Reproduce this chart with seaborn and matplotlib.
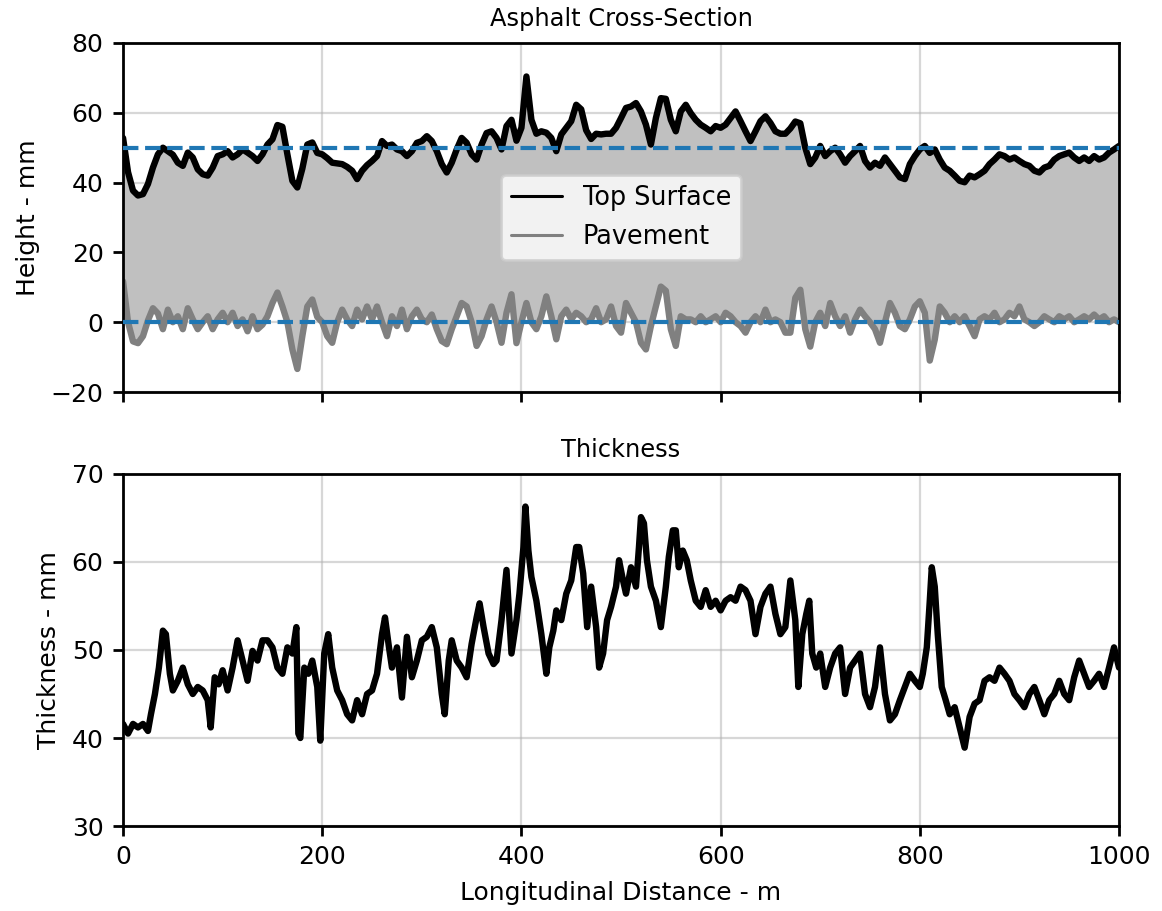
import numpy as np
import pandas as pd
import matplotlib
matplotlib.use("Agg")
import matplotlib.pyplot as plt
from matplotlib.lines import Line2D
import seaborn as sns

# ---------------- data ----------------
distance = list(range(0, 1001, 5))  # m

top_surface = [
    52.8, 43.0, 37.7, 36.3, 36.7, 39.6, 44.3, 48.1, 50.0, 49.0,   # 0-45
    48.0, 45.7, 44.8, 48.6, 47.2, 43.8, 42.4, 42.0, 44.3, 47.6,   # 50-95
    48.1, 49.0, 47.2, 48.1, 49.5, 48.6, 47.6, 46.2, 48.1, 50.9,   # 100-145
    52.4, 56.5, 56.0, 48.1, 40.5, 38.6, 44.0, 50.9, 51.5, 48.5,   # 150-195
    48.1, 47.0, 45.7, 45.5, 45.3, 44.5, 43.4, 41.0, 43.4, 45.0,   # 200-245
    46.2, 47.6, 51.9, 50.5, 50.9, 49.5, 49.0, 47.6, 49.0, 51.4,   # 250-295
    51.9, 53.3, 51.9, 49.0, 45.3, 42.9, 45.7, 49.5, 52.8, 51.4,   # 300-345
    48.1, 46.6, 50.9, 54.2, 54.7, 52.8, 49.5, 56.2, 58.0, 52.0,   # 350-395
    55.7, 70.4, 58.0, 54.0, 54.7, 54.3, 52.8, 49.0, 53.8, 55.7,   # 400-445
    57.6, 62.3, 61.0, 55.0, 52.5, 54.0, 53.8, 54.0, 54.0, 55.7,   # 450-495
    58.5, 61.4, 61.8, 62.8, 60.4, 56.6, 50.9, 58.5, 64.2, 64.0,   # 500-545
    58.0, 54.7, 60.4, 62.3, 59.9, 58.0, 56.6, 55.7, 54.7, 56.2,   # 550-595
    55.7, 56.6, 58.5, 60.4, 57.6, 54.7, 51.9, 54.7, 57.6, 59.0,   # 600-645
    57.1, 54.7, 54.0, 54.0, 55.5, 57.5, 57.0, 50.0, 45.3, 47.2,   # 650-695
    50.5, 47.6, 49.0, 50.0, 48.1, 45.7, 47.6, 49.0, 50.5, 46.2,   # 700-745
    44.3, 45.7, 44.8, 47.2, 45.3, 43.4, 41.5, 41.0, 45.3, 47.6,   # 750-795
    49.5, 50.5, 48.5, 49.5, 46.6, 44.3, 43.4, 42.0, 40.5, 40.1,   # 800-845
    42.0, 41.5, 42.4, 43.4, 45.3, 46.6, 48.1, 47.6, 46.6, 47.2,   # 850-895
    46.2, 45.3, 44.8, 43.4, 42.9, 44.3, 44.8, 46.6, 47.6, 48.1,   # 900-945
    48.6, 47.2, 46.2, 47.2, 46.2, 47.6, 46.6, 47.2, 48.6, 49.5,   # 950-995
    50.5,                                                          # 1000
]

pavement = [
    11.7, 0.0, -5.5, -6.0, -4.0, 0.5, 4.0, 2.5, -2.0, 3.6,        # 0-45
    0.0, 1.7, -2.0, 4.0, 0.8, -2.0, 0.0, 1.7, -2.0, 0.8,          # 50-95
    2.7, 0.0, 2.7, -1.1, 0.8, -2.6, 1.7, -2.0, -0.7, 1.7,         # 100-145
    5.5, 8.5, 4.5, 0.0, -7.8, -13.4, -4.0, 4.5, 6.5, 1.5,         # 150-195
    0.0, -4.0, -5.9, 0.0, 3.6, 0.8, -1.1, 3.6, 0.8, 4.5,          # 200-245
    0.8, 4.5, 0.0, -4.0, 1.7, -1.1, 3.6, -2.0, 1.7, 3.6,          # 250-295
    0.8, 0.0, 2.2, -2.0, -5.4, -6.3, -2.0, 1.7, 5.5, 4.5,         # 300-345
    0.0, -6.8, -4.0, 0.8, 4.5, 0.0, -5.9, 2.7, 8.0, -6.0,         # 350-395
    0.0, 5.5, 0.0, -2.0, 1.7, 7.4, 1.7, -4.9, 1.7, 3.6,           # 400-445
    0.8, 2.7, 1.7, 0.0, 0.8, 4.0, 0.0, 0.8, 4.5, -1.1,            # 450-495
    -3.0, 5.5, 2.7, 0.0, -5.9, -7.8, -1.1, 4.5, 10.2, 9.0,        # 500-545
    -2.0, -6.8, 1.7, 0.8, 0.8, 0.0, 1.7, 0.0, 0.8, 1.7,           # 550-595
    0.0, 2.7, 1.7, 0.0, -1.1, -3.0, 0.0, 1.7, 0.0, 3.6,           # 600-645
    0.0, 0.8, 0.0, -3.0, -3.0, 7.0, 9.3, -2.0, -7.0, 0.0,         # 650-695
    2.7, -1.1, 5.5, 1.7, -1.1, 1.7, -3.0, 0.8, 3.6, 1.7,          # 700-745
    0.0, -2.0, -5.9, 0.0, 5.5, 2.7, -1.1, -2.0, 0.8, 4.5,         # 750-795
    6.0, 2.7, -11.0, -5.0, 4.5, 2.7, 0.0, 1.7, 0.0, 1.7,          # 800-845
    -1.1, -4.0, 0.8, 1.7, 0.8, 2.7, 0.0, 0.8, 2.7, 1.7,           # 850-895
    4.5, 0.8, 0.0, -1.1, 0.0, 1.7, 0.8, 0.0, 1.7, 0.8,            # 900-945
    1.7, 0.0, 0.8, 1.7, 0.8, 2.2, 0.8, 1.7, 0.0, 0.8,             # 950-995
    0.0,                                                           # 1000
]

thickness_distance = [
    0, 5, 10, 15, 20, 25, 28, 32, 36, 40, 43, 47, 50, 55, 60, 65, 70, 75, 80, 85,
    88, 92, 96, 100, 105, 110, 115, 120, 125, 130, 135, 140, 145, 150, 155, 160,
    165, 170, 174, 176, 178, 182, 186, 190, 195, 198, 202, 206, 210, 215, 220,
    225, 230, 235, 240, 245, 250, 255, 260, 263, 267, 270, 275, 280, 285, 290,
    295, 300, 305, 310, 315, 320, 323, 327, 330, 335, 340, 345, 350, 355, 358,
    362, 367, 372, 375, 380, 385, 390, 395, 398, 402, 404, 407, 410, 415, 420,
    425, 428, 432, 435, 440, 445, 450, 455, 458, 462, 466, 470, 475, 478, 482,
    486, 490, 495, 498, 502, 505, 510, 515, 518, 520, 523, 526, 530, 535, 540,
    545, 548, 552, 555, 558, 562, 566, 570, 575, 580, 585, 590, 595, 600, 605,
    610, 615, 620, 625, 630, 635, 640, 645, 650, 655, 660, 665, 670, 675, 678,
    682, 686, 689, 692, 696, 700, 705, 710, 715, 720, 725, 730, 735, 740, 745,
    750, 755, 760, 765, 770, 775, 780, 785, 790, 795, 800, 803, 807, 810, 812,
    815, 818, 822, 826, 830, 835, 840, 845, 850, 855, 860, 865, 870, 875, 880,
    885, 890, 895, 900, 905, 910, 915, 920, 925, 930, 935, 940, 945, 950, 955,
    960, 965, 970, 975, 980, 985, 990, 995, 1000,
]

thickness = [
    41.6, 40.5, 41.6, 41.2, 41.6, 40.8, 42.7, 45.0, 48.0, 52.2, 51.8, 47.3, 45.4,
    46.5, 48.0, 46.1, 45.0, 45.8, 45.4, 44.3, 41.2, 46.9, 46.1, 47.7, 45.4, 48.0,
    51.1, 48.8, 46.5, 49.9, 48.8, 51.1, 51.1, 50.3, 48.0, 47.3, 50.3, 49.6, 52.6,
    40.5, 40.0, 48.0, 47.3, 48.8, 45.8, 39.7, 49.6, 51.8, 48.0, 45.4, 44.3, 42.7,
    42.0, 44.3, 42.7, 45.0, 45.4, 47.3, 51.8, 53.7, 50.3, 48.0, 50.3, 44.6, 51.5,
    46.9, 48.8, 51.1, 51.5, 52.6, 50.3, 45.0, 42.7, 48.8, 51.1, 48.8, 48.0, 46.9,
    50.7, 53.7, 55.3, 52.6, 49.6, 48.4, 48.8, 53.4, 59.1, 49.6, 53.4, 56.4, 61.7,
    66.3, 61.3, 58.3, 55.6, 51.8, 47.3, 50.3, 52.2, 54.5, 53.4, 56.4, 57.9, 61.7,
    61.7, 58.7, 52.6, 57.2, 52.6, 48.0, 49.6, 53.4, 54.9, 57.2, 60.2, 57.9, 56.4,
    59.4, 57.2, 61.7, 65.1, 64.4, 60.2, 57.2, 55.6, 52.6, 57.2, 60.6, 63.6, 63.6,
    59.4, 61.3, 60.2, 57.9, 55.6, 54.9, 56.8, 54.9, 55.6, 54.5, 55.6, 56.0, 55.6,
    57.2, 56.8, 55.6, 51.8, 54.9, 56.4, 57.2, 54.1, 51.8, 52.6, 57.9, 53.4, 45.8,
    51.8, 54.1, 55.6, 49.6, 48.0, 49.6, 45.8, 48.0, 49.6, 50.3, 45.0, 48.0, 48.8,
    49.6, 45.0, 43.5, 45.8, 50.3, 45.0, 42.0, 42.7, 44.3, 45.8, 47.3, 46.5, 45.8,
    47.3, 50.3, 55.6, 59.4, 57.2, 51.8, 45.8, 44.3, 42.7, 43.5, 41.2, 38.9, 42.4,
    43.9, 44.3, 46.5, 46.9, 46.5, 48.0, 47.3, 46.5, 45.0, 44.3, 43.5, 45.0, 45.8,
    44.3, 42.7, 44.3, 45.0, 46.5, 45.0, 44.3, 46.9, 48.8, 47.3, 45.8, 46.5, 47.3,
    45.8, 48.0, 50.3, 48.0,
]

design_top = 50    # reference level of top surface (mm)
design_base = 0    # reference level of pavement (mm)

x_ticks = [0, 200, 400, 600, 800, 1000]

# ---------------- figure ----------------
sns.set_style("ticks")
plt.rcParams["font.family"] = ["DejaVu Sans"]
plt.rcParams["font.size"] = 9
plt.rcParams["text.color"] = "black"
plt.rcParams["axes.labelcolor"] = "black"
plt.rcParams["axes.titlecolor"] = "black"

df_top = pd.DataFrame({"distance": distance, "top": top_surface, "pave": pavement})
df_thk = pd.DataFrame({"distance": thickness_distance, "thickness": thickness})

fig = plt.figure(figsize=(5.81, 4.555), dpi=200)
ax1 = fig.add_axes([0.1059, 0.5697, 0.8571, 0.3831])
ax2 = fig.add_axes([0.1059, 0.0933, 0.8571, 0.3864], sharex=ax1)

# top panel
ax1.fill_between(df_top["distance"], df_top["pave"], df_top["top"],
                 color="silver", linewidth=0, zorder=1)
sns.lineplot(data=df_top, x="distance", y="top", ax=ax1, color="black",
             linewidth=2.3, estimator=None, sort=False, zorder=2)
sns.lineplot(data=df_top, x="distance", y="pave", ax=ax1, color="gray",
             linewidth=2.3, estimator=None, sort=False, zorder=2)
ax1.axhline(design_top, color="#1f77b4", linestyle="--", linewidth=1.5, zorder=3)
ax1.axhline(design_base, color="#1f77b4", linestyle="--", linewidth=1.5, zorder=3)
ax1.set_ylim(-20, 80)
ax1.set_yticks([-20, 0, 20, 40, 60, 80])
ax1.set_xlim(0, 1000)
ax1.set_title("Asphalt Cross-Section", fontsize=8.7, color="black")
ax1.set_ylabel("Height - mm")
ax1.set_xlabel("")
ax1.tick_params(labelbottom=False)
handles = [Line2D([0], [0], color="black", lw=1.1),
           Line2D([0], [0], color="gray", lw=1.1)]
ax1.legend(handles, ["Top Surface", "Pavement"], loc="center", fontsize=9.2,
           framealpha=0.8, edgecolor="0.8", fancybox=True)

# bottom panel
sns.lineplot(data=df_thk, x="distance", y="thickness", ax=ax2, color="black",
             linewidth=2.3, estimator=None, sort=False)
ax2.set_ylim(30, 70)
ax2.set_yticks([30, 40, 50, 60, 70])
ax2.set_xticks(x_ticks)
ax2.set_xlim(0, 1000)
ax2.set_title("Thickness", fontsize=8.7, color="black")
ax2.set_ylabel("Thickness - mm")
ax2.set_xlabel("Longitudinal Distance - m")

for ax in (ax1, ax2):
    ax.grid(True, color="#b0b0b0", alpha=0.5, linewidth=0.8)
    for s in ax.spines.values():
        s.set_color("black")
        s.set_linewidth(1.0)
    ax.tick_params(direction="out", length=3.5, width=1.0, color="black",
                   labelsize=9, labelcolor="black")

fig.savefig("out.png", dpi=200)
